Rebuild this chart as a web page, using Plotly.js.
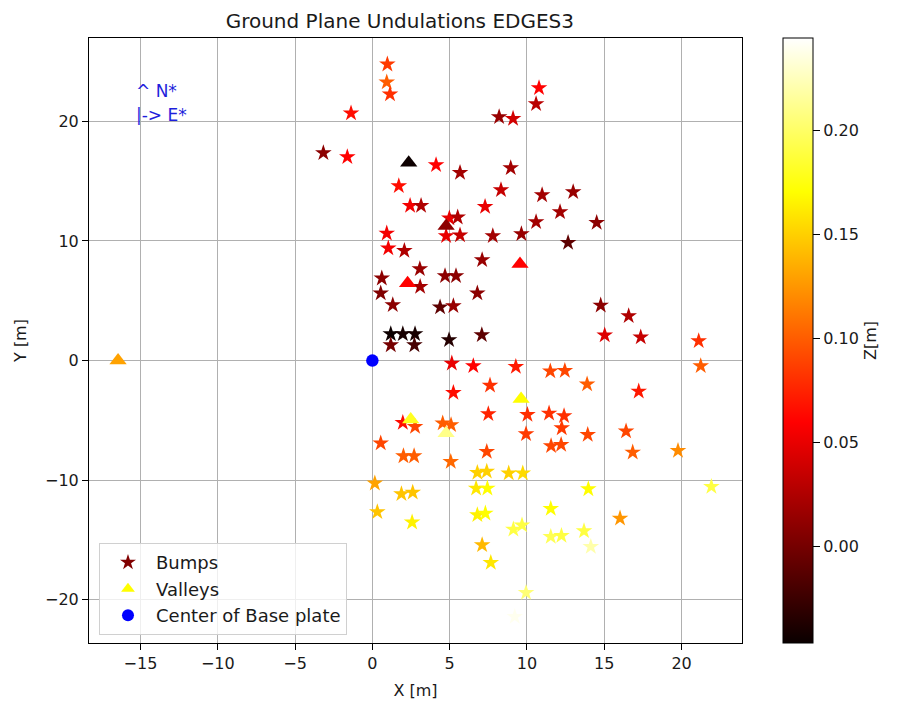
<!DOCTYPE html>
<html>
<head>
<meta charset="utf-8">
<script src="https://cdn.plot.ly/plotly-3.0.1.min.js"></script>
<style>
  html, body { margin: 0; padding: 0; background: #fff; }
  #chart { width: 903px; height: 708px; }
</style>
</head>
<body>
<div id="chart"></div>
<script>
// Surveyed bumps: east offset, north offset and height (m)
const bumpX = [0.54, 0.97, 0.93, 1.14, -1.38, 10.78, 10.59, 8.20, 9.10, -3.17, -1.62, 4.12, 5.67, 8.95, 1.71, 8.32, 10.98, 12.99, 2.44, 3.15,
  7.29, 4.98, 5.52, 12.14, 10.59, 14.51, 12.66, 4.77, 5.67, 0.93, 7.79, 9.64, 1.03, 2.07, 7.10, 3.07, 0.61, 3.09, 4.70, 5.41,
  6.79, 1.32, 4.38, 5.24, 14.77, 16.58, 1.19, 1.97, 2.76, 1.19, 2.72, 4.96, 7.08, 15.03, 17.36, 21.11, 5.14, 6.53, 9.28, 11.51,
  12.45, 21.24, 7.61, 13.89, 5.24, 17.23, 7.50, 10.03, 11.43, 12.40, 1.97, 2.76, 4.55, 5.09, 12.25, 16.41, 9.94, 13.93, 0.54, 2.01,
  2.70, 7.40, 5.07, 11.56, 12.21, 16.84, 19.77, 0.16, 1.88, 2.61, 6.79, 7.40, 8.82, 9.73, 6.71, 7.44, 13.97, 21.93, 0.32, 2.57,
  11.54, 6.79, 7.31, 16.02, 9.12, 9.68, 13.69, 11.54, 12.23, 14.13, 7.10, 7.66, 9.94, 9.21];
const bumpY = [5.63, 24.77, 23.27, 22.27, 20.68, 22.79, 21.45, 20.37, 20.23, 17.36, 17.02, 16.36, 15.71, 16.10, 14.60, 14.26, 13.84, 14.10, 12.95, 12.95,
  12.87, 11.90, 11.98, 12.42, 11.59, 11.53, 9.86, 10.42, 10.48, 10.64, 10.42, 10.59, 9.39, 9.19, 8.41, 7.66, 6.88, 6.18, 7.07, 7.07,
  5.63, 4.65, 4.46, 4.57, 4.62, 3.73, 2.22, 2.22, 2.22, 1.30, 1.30, 1.72, 2.14, 2.12, 1.95, 1.64, -0.23, -0.45, -0.51, -0.89,
  -0.84, -0.45, -2.07, -1.98, -2.68, -2.57, -4.46, -4.52, -4.41, -4.63, -5.19, -5.53, -5.24, -5.38, -5.64, -5.91, -6.14, -6.20, -6.91, -7.98,
  -7.98, -7.62, -8.45, -7.14, -7.03, -7.67, -7.53, -10.26, -11.15, -11.03, -9.37, -9.27, -9.42, -9.42, -10.68, -10.68, -10.74, -10.54, -12.66, -13.52,
  -12.38, -12.91, -12.77, -13.19, -14.11, -13.76, -14.25, -14.72, -14.64, -15.56, -15.42, -16.90, -19.41, -21.41];
const bumpZ = [0.005, 0.085, 0.10, 0.08, 0.065, 0.06, 0.03, 0.015, 0.04, 0.01, 0.06, 0.06, 0.02, 0.02, 0.065, 0.035, 0.02, 0.015, 0.055, 0.025,
  0.05, 0.05, 0.025, 0.02, 0.02, 0.01, -0.01, 0.05, 0.035, 0.055, 0.02, 0.015, 0.055, 0.025, 0.015, 0.015, 0.01, 0.02, 0.01, 0.01,
  0.01, 0.01, -0.01, 0.015, 0.01, 0.025, -0.045, -0.04, -0.04, 0.0, -0.02, -0.035, -0.01, 0.045, 0.035, 0.08, 0.05, 0.06, 0.07, 0.09,
  0.09, 0.10, 0.08, 0.10, 0.065, 0.07, 0.075, 0.08, 0.08, 0.08, 0.065, 0.09, 0.10, 0.10, 0.085, 0.09, 0.085, 0.09, 0.09, 0.10,
  0.10, 0.09, 0.105, 0.09, 0.09, 0.10, 0.12, 0.13, 0.145, 0.145, 0.15, 0.15, 0.15, 0.155, 0.16, 0.17, 0.17, 0.19, 0.145, 0.165,
  0.17, 0.165, 0.17, 0.125, 0.19, 0.19, 0.19, 0.195, 0.19, 0.22, 0.14, 0.16, 0.205, 0.24];

// Surveyed valleys
const valleyX = [9.62, 2.35, 4.77, 2.28, 9.55, -16.45, 2.48, 4.77];
const valleyY = [-3.21, 16.55, 11.25, 6.46, 8.08, 0.0, -4.92, -6.08];
const valleyZ = [0.17, -0.045, 0.01, 0.06, 0.06, 0.13, 0.18, 0.21];

// Base plate centre
const centerX = [0];
const centerY = [0];

// Shared colour limits of the height scale
const zLimits = [-0.0465, 0.2445];

// matplotlib "hot" colormap
const hot = [
  [0.0, 'rgb(10,0,0)'],
  [0.365079, 'rgb(255,0,0)'],
  [0.746032, 'rgb(255,255,0)'],
  [1.0, 'rgb(255,255,255)']
];

const FONT = 'DejaVu Sans, sans-serif';
const INK = '#1a1a1a';
const TICK = 16;

const bumps = {
  type: 'scatter', mode: 'markers', name: 'Bumps',
  x: bumpX, y: bumpY,
  marker: {
    symbol: 'star', size: 12.5,
    color: bumpZ, colorscale: hot, cmin: zLimits[0], cmax: zLimits[1],
    line: { width: 0 },
    showscale: true,
    colorbar: {
      x: 1.063, xanchor: 'left', xref: 'paper',
      y: 0.5, yanchor: 'middle',
      len: 1, lenmode: 'fraction',
      thickness: 30, thicknessmode: 'pixels',
      outlinecolor: '#000', outlinewidth: 1,
      ticks: 'outside', ticklen: 7, tickwidth: 1, tickcolor: '#000',
      ticklabelstandoff: 6,
      tick0: 0, dtick: 0.05, tickformat: '.2f',
      tickfont: { family: FONT, size: TICK, color: INK },
      title: { text: 'Z[m]', side: 'right', font: { family: FONT, size: TICK, color: INK } },
      xpad: 0, ypad: 0
    }
  },
  hoverinfo: 'x+y'
};

const valleys = {
  type: 'scatter', mode: 'markers', name: 'Valleys',
  x: valleyX, y: valleyY,
  marker: {
    symbol: 'triangle-up', size: 15,
    color: valleyZ, colorscale: hot, cmin: zLimits[0], cmax: zLimits[1],
    line: { width: 0 }, showscale: false
  }
};

const center = {
  type: 'scatter', mode: 'markers', name: 'Center of Base plate',
  x: centerX, y: centerY,
  marker: { symbol: 'circle', size: 12.5, color: 'rgb(0,0,255)', line: { width: 0 } }
};

const axisCommon = {
  showgrid: true, gridcolor: '#b0b0b0', gridwidth: 1,
  zeroline: false,
  showline: true, linecolor: '#000', linewidth: 1, mirror: true,
  ticks: 'outside', ticklen: 6, tickwidth: 1, tickcolor: '#000',
  tickfont: { family: FONT, size: TICK, color: INK }
};

const layout = {
  width: 903, height: 708,
  margin: { l: 89, r: 161, t: 38, b: 65, pad: 0 },
  paper_bgcolor: '#fff', plot_bgcolor: '#fff',
  font: { family: FONT, color: INK },
  title: {
    text: 'Ground Plane Undulations EDGES3',
    font: { family: FONT, size: 20, color: INK },
    x: 0.476, xanchor: 'center', xref: 'paper',
    y: 1, yref: 'paper', yanchor: 'bottom', pad: { b: 10 }
  },
  xaxis: Object.assign({}, axisCommon, {
    range: [-18.33, 23.91], tick0: 0, dtick: 5,
    title: { text: 'X [m]', font: { family: FONT, size: TICK, color: INK }, standoff: 12 }
  }),
  yaxis: Object.assign({}, axisCommon, {
    range: [-23.61, 26.97], tick0: 0, dtick: 10,
    title: { text: 'Y [m]', font: { family: FONT, size: TICK, color: INK }, standoff: 14 }
  }),
  showlegend: true,
  legend: {
    x: 0.0153, y: 0.013, xanchor: 'left', yanchor: 'bottom',
    bgcolor: 'rgba(255,255,255,0.8)', bordercolor: '#d0d0d0', borderwidth: 1,
    font: { family: FONT, size: 18, color: INK },
    itemsizing: 'constant', itemwidth: 46
  },
  annotations: [
    { xref: 'x', yref: 'y', x: -15.45, y: 22.5, xanchor: 'left', yanchor: 'middle', showarrow: false,
      text: '^ N*', font: { family: FONT, size: 17, color: 'rgb(30,30,220)' } },
    { xref: 'x', yref: 'y', x: -15.45, y: 20.5, xanchor: 'left', yanchor: 'middle', showarrow: false,
      text: '|-> E*', font: { family: FONT, size: 17, color: 'rgb(30,30,220)' } }
  ]
};

Plotly.newPlot('chart', [bumps, valleys, center], layout, { displayModeBar: false, staticPlot: true });
</script>
</body>
</html>
